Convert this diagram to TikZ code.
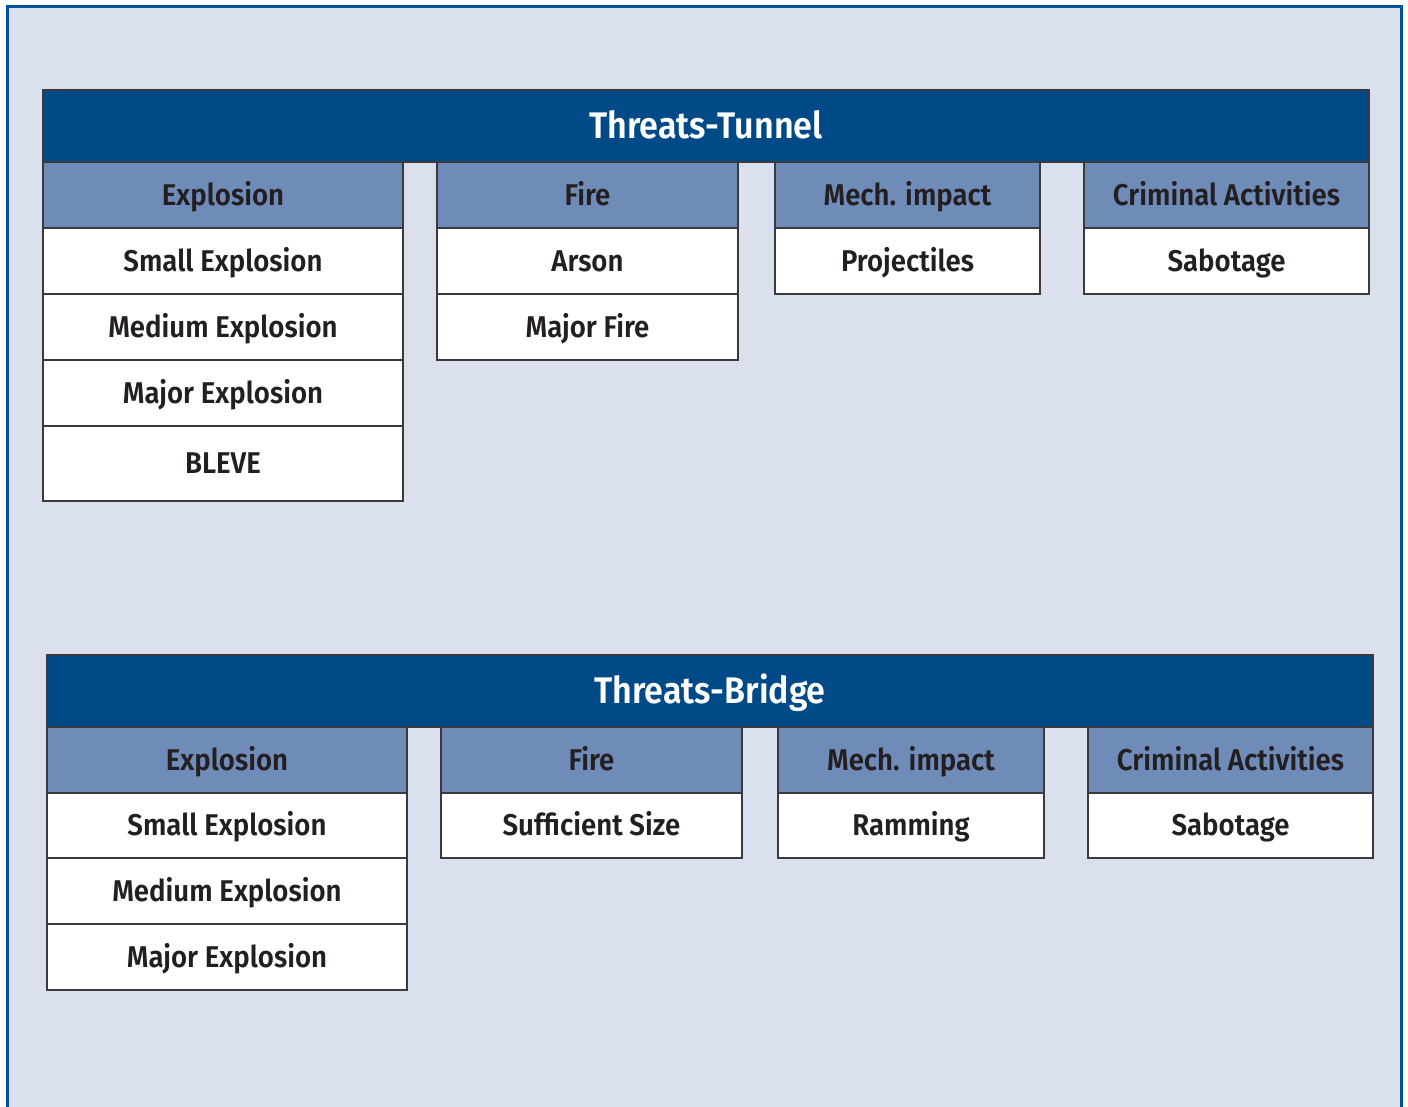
\documentclass[tikz,border=0pt]{standalone}
\usepackage{fontspec}
\setmainfont{Fira Sans}[BoldFont={Fira Sans SemiBold}, FakeStretch=0.92]
\definecolor{framebg}{HTML}{DAE0EE}
\definecolor{frameline}{HTML}{00529B}
\definecolor{titlebg}{HTML}{004A87}
\definecolor{headbg}{HTML}{6F8CB8}
\definecolor{inktext}{HTML}{231F20}
\definecolor{cellline}{HTML}{3A3A3C}
\tikzset{
  base/.style={rectangle, inner sep=0pt, outer sep=0pt, draw=cellline, line width=1.3pt,
    text=inktext, font=\fontsize{30}{32}\selectfont\bfseries, text height=20.7pt, text depth=0pt},
  titlebar/.style={base, fill=titlebg, text=white, font=\fontsize{37}{39}\selectfont\bfseries,
    text height=25.5pt, minimum height=72pt},
  headcell/.style={base, fill=headbg, minimum height=66pt},
  itemcell/.style={base, fill=white, minimum height=66pt},
}
\begin{document}
\begin{tikzpicture}[x=1pt, y=-1pt]
\useasboundingbox (0,0) rectangle (1408,1106);
\fill[white] (0,0) rectangle (1408,1106);
% outer panel
\draw[frameline, fill=framebg, line width=3pt] (7.5,6.5) rectangle (1401.5,1115);

% ---------- Tunnel ----------
\node[headcell, minimum width=360pt] (tExp) at (223,195) {Explosion};
\node[itemcell, minimum width=360pt] (tExp1) at (223,261) {Small Explosion};
\node[itemcell, minimum width=360pt] (tExp2) at (223,327) {Medium Explosion};
\node[itemcell, minimum width=360pt] (tExp3) at (223,393) {Major Explosion};
\node[itemcell, minimum width=360pt, minimum height=75pt] (tExp4) at (223,463.5) {BLEVE};

\node[headcell, minimum width=301pt] (tFire) at (587.5,195) {Fire};
\node[itemcell, minimum width=301pt] (tFire1) at (587.5,261) {Arson};
\node[itemcell, minimum width=301pt] (tFire2) at (587.5,327) {Major Fire};

\node[headcell, minimum width=265pt] (tMech) at (907.5,195) {Mech. impact};
\node[itemcell, minimum width=265pt] (tMech1) at (907.5,261) {Projectiles};

\node[headcell, minimum width=285pt] (tCrim) at (1226.5,195) {Criminal Activities};
\node[itemcell, minimum width=285pt] (tCrim1) at (1226.5,261) {Sabotage};

\node[titlebar, minimum width=1326pt] (tunnel) at (706,126) {Threats-Tunnel};

% ---------- Bridge ----------
\node[headcell, minimum width=360pt] (bExp) at (227,760) {Explosion};
\node[itemcell, minimum width=360pt, minimum height=65pt] (bExp1) at (227,825.5) {Small Explosion};
\node[itemcell, minimum width=360pt] (bExp2) at (227,891) {Medium Explosion};
\node[itemcell, minimum width=360pt] (bExp3) at (227,957) {Major Explosion};

\node[headcell, minimum width=301pt] (bFire) at (591.5,760) {Fire};
\node[itemcell, minimum width=301pt, minimum height=65pt] (bFire1) at (591.5,825.5) {Sufficient Size};

\node[headcell, minimum width=266pt] (bMech) at (911,760) {Mech. impact};
\node[itemcell, minimum width=266pt, minimum height=65pt] (bMech1) at (911,825.5) {Ramming};

\node[headcell, minimum width=285pt] (bCrim) at (1230.5,760) {Criminal Activities};
\node[itemcell, minimum width=285pt, minimum height=65pt] (bCrim1) at (1230.5,825.5) {Sabotage};

\node[titlebar, minimum width=1326pt] (bridge) at (710,691) {Threats-Bridge};
\end{tikzpicture}
\end{document}
